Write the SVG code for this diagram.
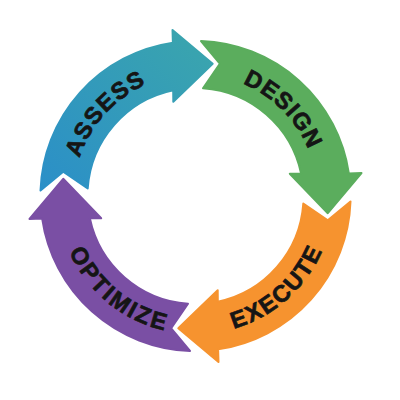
<svg xmlns="http://www.w3.org/2000/svg" width="400" height="400" viewBox="0 0 400 400">
<defs>
<style>
.lbl { font-family: "Liberation Sans", Arial, sans-serif; font-weight: bold; font-size: 23.5px; fill: #151515; stroke: #151515; stroke-width: 0.7px; stroke-linejoin: round; }
.arr { stroke-width: 2; stroke-linejoin: round; }
</style>
<linearGradient id="gBlue" x1="0" y1="0" x2="1" y2="1">
<stop offset="0" stop-color="#2b8fc8"/>
<stop offset="1" stop-color="#3ba6ac"/>
</linearGradient>
<path id="arrowShape" d="M5.5,-155 A155,155 0 0 1 153.34,-22.6 L166,-23 L132.3,17.2 L94.3,-22.2 L105.67,-22.3 A108,108 0 0 0 7.5,-107.8 L24.3,-132.3 Z"/>
<path id="tAssess" d="M-121.9,-4.9 A122,122 0 0 1 -16.35,-120.9"/>
<path id="tDesign" d="M11.48,-121.46 A122,122 0 0 1 121.6,-9.78"/>
<path id="tExecute" d="M3.85,137.95 A138,138 0 0 0 136.52,20.16"/>
<path id="tOptimize" d="M-135.56,25.86 A138,138 0 0 0 1.93,137.99"/>
</defs>
<rect width="400" height="400" fill="#ffffff"/>
<g transform="translate(195.5,196)">
<g id="node-assess">
<use href="#arrowShape" class="arr" transform="rotate(-90)" fill="url(#gBlue)" stroke="url(#gBlue)"/>
<text class="lbl" letter-spacing="1.3"><textPath href="#tAssess" startOffset="50%" text-anchor="middle">ASSESS</textPath></text>
</g>
<g id="node-design">
<use href="#arrowShape" class="arr" fill="#5bad5d" stroke="#5bad5d"/>
<text class="lbl" letter-spacing="1"><textPath href="#tDesign" startOffset="50%" text-anchor="middle">DESIGN</textPath></text>
</g>
<g id="node-execute">
<use href="#arrowShape" class="arr" transform="rotate(90)" fill="#f6932f" stroke="#f6932f"/>
<text class="lbl" letter-spacing="1.7"><textPath href="#tExecute" startOffset="50%" text-anchor="middle">EXECUTE</textPath></text>
</g>
<g id="node-optimize">
<use href="#arrowShape" class="arr" transform="rotate(180)" fill="#7a4fa4" stroke="#7a4fa4"/>
<text class="lbl" letter-spacing="2.4"><textPath href="#tOptimize" startOffset="50%" text-anchor="middle">OPTIMIZE</textPath></text>
</g>
</g>
</svg>
